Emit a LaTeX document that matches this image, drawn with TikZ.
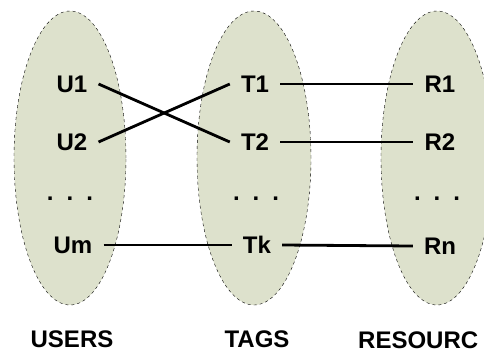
\documentclass[tikz,border=0pt]{standalone}
\usepackage{fontspec}
\setsansfont{Liberation Sans}
\usetikzlibrary{shapes.geometric}
\definecolor{setfill}{HTML}{DDE1CC}
\tikzset{
    every node/.style={font=\fontsize{24}{26}\selectfont\sffamily\bfseries},
    setblob/.style={ellipse,draw=black,dashed,thin,fill=setfill,minimum width=112pt,minimum height=294pt,inner sep=0pt},
    item/.style={inner xsep=11pt,inner ysep=0pt},
    dots/.style={inner sep=0pt},
    caption/.style={inner sep=0pt},
    link/.style={draw=black,line width=2.8pt}
}

\begin{document}
\begin{tikzpicture}[x=1pt,y=-1pt]
\clip (0,0) rectangle (484,354);
\useasboundingbox (0,0) rectangle (484,354);
% the three sets
\node[setblob] (users) at (70,158) {};
\node[setblob,minimum width=114pt] (tags) at (254,158) {};
\node[setblob] (resources) at (437,158) {};
% users
\node[item] (u1) at (72,84) {U1};
\node[item] (u2) at (72,142) {U2};
\node[dots] (udots) at (70,199) {.\hspace{13pt}.\hspace{13pt}.};
\node[item] (um) at (73,245) {Um};
% tags
\node[item] (t1) at (255,84) {T1};
\node[item] (t2) at (255,142) {T2};
\node[dots] (tdots) at (256,199) {.\hspace{13pt}.\hspace{13pt}.};
\node[item] (tk) at (257,245) {Tk};
% resources
\node[item] (r1) at (440,84) {R1};
\node[item] (r2) at (440,142) {R2};
\node[dots] (rdots) at (437,199) {.\hspace{13pt}.\hspace{13pt}.};
\node[item] (rn) at (440,246) {Rn};
% links
\draw[link] (u1.east) -- (t2.west);
\draw[link] (u2.east) -- (t1.west);
\draw[link] (um.east) -- (tk.west);
\draw[link] (t1.east) -- (r1.west);
\draw[link] (t2.east) -- (r2.west);
\draw[link] (tk.east) -- (rn.west);
% set names
\node[caption] (lusers) at (72,339) {USERS};
\node[caption] (ltags) at (257,339) {TAGS};
\node[caption,anchor=west] (lres) at (358,340) {RESOURC};
\end{tikzpicture}
\end{document}
